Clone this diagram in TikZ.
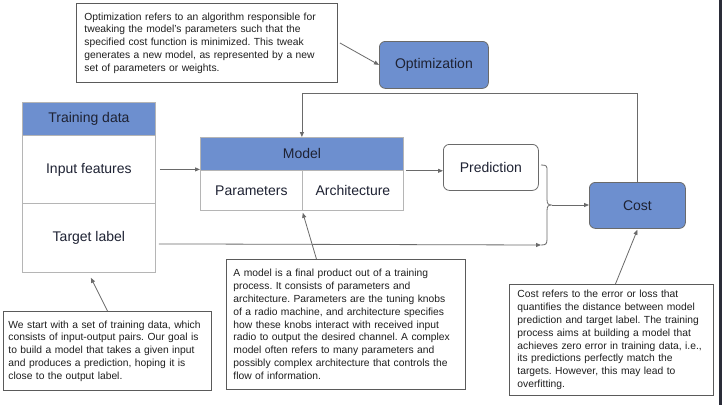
\documentclass[tikz,border=0pt]{standalone}
\usepackage{fontspec}
\setmainfont{Liberation Sans}
\usetikzlibrary{arrows.meta}
\definecolor{boxblue}{HTML}{6D8FCF}
\definecolor{inkdark}{HTML}{1E2233}
\definecolor{notegray}{HTML}{5A5A5A}
\definecolor{tablegray}{HTML}{B5B5B5}
\definecolor{wiregray}{HTML}{6A6A6A}
\definecolor{edgedark}{HTML}{2A2C38}
\frenchspacing
\tikzset{
  label font/.style={font=\fontsize{14}{16}\selectfont, text=inkdark},
  cell/.style={draw=tablegray, line width=0.8pt, inner sep=0pt, anchor=north west, label font},
  headcell/.style={cell, fill=boxblue},
  roundbox/.style={draw=wiregray, line width=0.8pt, rounded corners=6pt, inner sep=0pt,
    anchor=north west, label font},
  bluebox/.style={roundbox, fill=boxblue},
  notebox/.style={draw=notegray, line width=0.9pt, anchor=north west, inner xsep=8pt,
    inner ysep=0pt, align=left, text=black!88, font=\fontsize{10.3}{12.8}\selectfont},
  wire/.style={draw=wiregray, line width=0.8pt},
  arr/.style={wire, -{Triangle[length=5pt,width=4pt]}}
}
\begin{document}
\begin{tikzpicture}[x=1pt,y=-1pt]
\useasboundingbox (0,0) rectangle (722,405);
\fill[white] (0,0) rectangle (722,405);
\fill[edgedark] (719,0) rectangle (722,405);

% training data table
\node[headcell, minimum width=133pt, minimum height=33pt] (tdhead) at (22,102) {Training data};
\node[cell, minimum width=133pt, minimum height=68pt] (tdin) at (22,135) {Input features};
\node[cell, minimum width=133pt, minimum height=69pt] (tdtgt) at (22,203) {Target label};

% model table
\node[headcell, minimum width=203pt, minimum height=33pt] (mhead) at (200,137) {Model};
\node[cell, minimum width=102pt, minimum height=40pt] (mpar) at (200,170) {Parameters};
\node[cell, minimum width=101pt, minimum height=40pt] (march) at (302,170) {Architecture};

% rounded blocks
\node[roundbox, minimum width=95pt, minimum height=46pt] (pred) at (443,144) {Prediction};
\node[bluebox, minimum width=96pt, minimum height=46pt] (cost) at (589,182) {Cost};
\node[bluebox, minimum width=109pt, minimum height=47pt] (opt) at (379,41) {Optimization};

% explanatory notes, each line set on its own
\node[notebox, text width=245pt, minimum height=79pt] (optnote) at (76,3)
  {\mbox{Optimization refers to an algorithm responsible for}\\
   \mbox{tweaking the model's parameters such that the}\\
   \mbox{specified cost function is minimized. This tweak}\\
   \mbox{generates a new model, as represented by a new}\\
   \mbox{set of parameters or weights.}};
\node[notebox, inner xsep=5pt, text width=198pt, minimum height=79pt] (tnote) at (3,311)
  {\mbox{We start with a set of training data, which}\\
   \mbox{consists of input-output pairs. Our goal is}\\
   \mbox{to build a model that takes a given input}\\
   \mbox{and produces a prediction, hoping it is}\\
   \mbox{close to the output label.}};
\node[notebox, inner xsep=7pt, text width=225pt, minimum height=130pt] (mnote) at (226,259)
  {\mbox{A model is a final product out of a training}\\
   \mbox{process. It consists of parameters and}\\
   \mbox{architecture. Parameters are the tuning knobs}\\
   \mbox{of a radio machine, and architecture specifies}\\
   \mbox{how these knobs interact with received input}\\
   \mbox{radio to output the desired channel. A complex}\\
   \mbox{model often refers to many parameters and}\\
   \mbox{possibly complex architecture that controls the}\\
   \mbox{flow of information.}};
\node[notebox, text width=188pt, minimum height=111pt] (cnote) at (509,284)
  {\mbox{Cost refers to the error or loss that}\\
   \mbox{quantifies the distance between model}\\
   \mbox{prediction and target label. The training}\\
   \mbox{process aims at building a model that}\\
   \mbox{achieves zero error in training data, i.e.,}\\
   \mbox{its predictions perfectly match the}\\
   \mbox{targets. However, this may lead to}\\
   \mbox{overfitting.}};

% brace joining prediction and target into the cost
\coordinate (btop) at (541,165);
\coordinate (bbot) at (541,245);
\coordinate (btip) at (552,205);
\coordinate (fb) at (0,93);
\draw[wire] (btop) .. controls (547,165) and (547,166) .. (547,171) -- (547,199)
  .. controls (547,204) and (548,205) .. (btip)
  .. controls (548,205) and (547,206) .. (547,211) -- (547,239)
  .. controls (547,244) and (546,245) .. (bbot);

% connectors
\draw[arr] ([xshift=4pt]tdin.east) -- (tdin.east -| mpar.west);
\draw[arr] ([xshift=2pt]mhead.south east) -- (mhead.south east -| pred.west);
\draw[arr] ([shift={(3pt,-6pt)}]tdtgt.east) -- (bbot);
\draw[arr] (btip) -- (btip -| cost.west);
\draw[arr] (cost.north) -- (cost.north |- fb) -| (mhead.north);
\draw[arr] ([xshift=2pt]optnote.east) -- (opt.west);
\draw[arr] ([xshift=-29.5pt]mnote.north) -- ([yshift=-2pt]mpar.south east);
\draw[arr] (tnote.north) -- ([shift={(2pt,-5pt)}]tdtgt.south);
\draw[arr] ([xshift=4pt]cnote.north) -- ([yshift=-1pt]cost.south);
\end{tikzpicture}
\end{document}
